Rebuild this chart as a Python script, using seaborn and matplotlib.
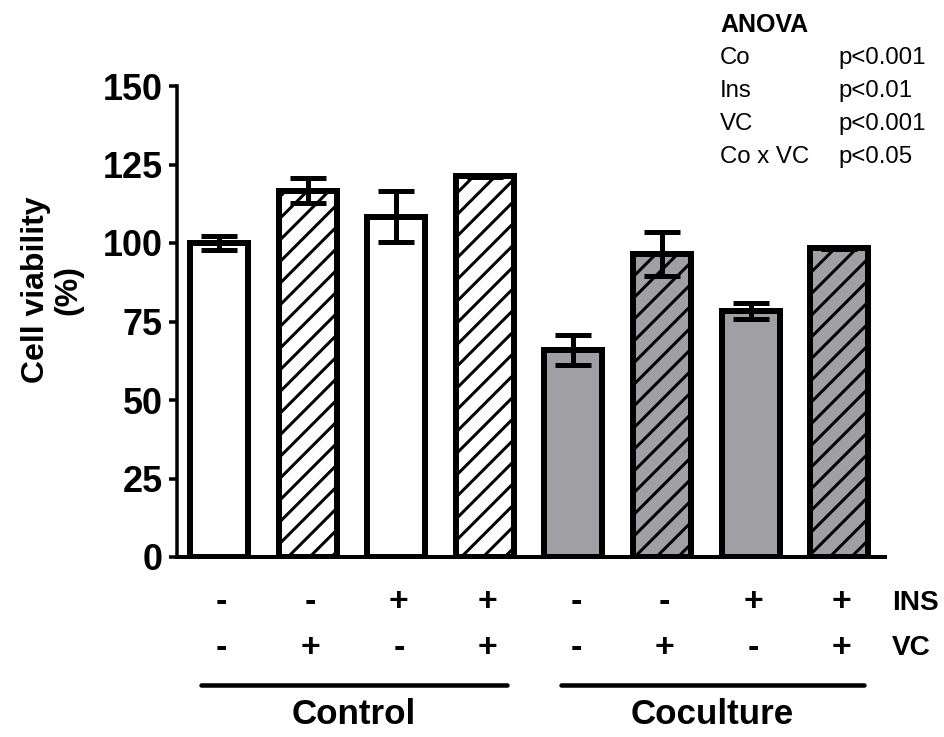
import numpy as np
import pandas as pd
import matplotlib
matplotlib.use("Agg")
import matplotlib.pyplot as plt
from matplotlib.lines import Line2D
import matplotlib.transforms as mtransforms
import seaborn as sns

# ---- data ----
groups = ["Control", "Coculture"]
conditions = ["C--", "C-+", "C+-", "C++", "K--", "K-+", "K+-", "K++"]
viability = [100.0, 116.7, 108.4, 121.2, 65.9, 96.5, 78.3, 98.4]
sem = [2.3, 4.1, 8.2, 0.3, 4.8, 7.0, 2.5, 0.3]
ins_labels = ["-", "-", "+", "+", "-", "-", "+", "+"]
vc_labels = ["-", "+", "-", "+", "-", "+", "-", "+"]
yticks = [0, 25, 50, 75, 100, 125, 150]
anova_terms = ["Co", "Ins", "VC", "Co x VC"]
anova_p = ["p<0.001", "p<0.01", "p<0.001", "p<0.05"]

# ---- style ----
DPI = 130
PT = 72.0 / DPI  # px -> pt
W, H = 944, 737

sns.set_style("ticks")
plt.rcParams["font.family"] = ["Liberation Sans", "DejaVu Sans"]
plt.rcParams["hatch.linewidth"] = 3 * PT
plt.rcParams["hatch.color"] = "black"
for k in ["text.color", "axes.labelcolor", "xtick.color", "ytick.color",
          "axes.edgecolor"]:
    plt.rcParams[k] = "black"

white = "#FFFFFF"
gray = "#A0A0A4"
fills = [white] * 4 + [gray] * 4
hatches = ["", "//", "", "//"] * 2

df = pd.DataFrame({"cond": conditions, "viability": viability})

fig = plt.figure(figsize=(W / DPI, H / DPI), dpi=DPI)
ax = fig.add_axes([177 / W, (H - 557) / H, (885 - 177) / W, (557 - 86) / H])

sns.barplot(data=df, x="cond", y="viability", hue="cond", order=conditions,
            hue_order=conditions, palette=fills, legend=False, width=0.655,
            edgecolor="black", linewidth=6 * PT, errorbar=None, ax=ax,
            saturation=1)
for p, h in zip(ax.patches, hatches):
    p.set_hatch(h)
    p.set_edgecolor("black")

x = np.arange(len(conditions))
ax.errorbar(x, viability, yerr=sem, fmt="none", ecolor="black",
            elinewidth=5 * PT, capsize=17.5 * PT, capthick=5 * PT, zorder=5)

ax.set_xlim((177 - 219) / 88.6, (885 - 219) / 88.6)
ax.set_ylim(0, 150)
ax.set_yticks(yticks)
ax.set_xticks([])
ax.set_xlabel("")
ax.set_ylabel("")
sns.despine(ax=ax)
ax.spines["left"].set_linewidth(3.5 * PT)
ax.spines["bottom"].set_linewidth(4 * PT)
ax.tick_params(axis="y", length=8 * PT, width=3.5 * PT, pad=6 * PT,
               labelsize=36 * PT, colors="black")
for lbl in ax.get_yticklabels():
    lbl.set_fontweight("bold")

# y label
fig.text(52 / W, 1 - 290 / H, "Cell viability\n(%)", rotation=90,
         ha="center", va="center", multialignment="center",
         fontsize=32 * PT, fontweight="bold", linespacing=1.1)

# +/- rows
tr = mtransforms.blended_transform_factory(ax.transData, fig.transFigure)
for xi, (a, b) in enumerate(zip(ins_labels, vc_labels)):
    ax.text(xi + 0.03, 1 - 603 / H, a, transform=tr, ha="center", va="center",
            fontsize=34 * PT, fontweight="bold", clip_on=False)
    ax.text(xi + 0.03, 1 - 648 / H, b, transform=tr, ha="center", va="center",
            fontsize=34 * PT, fontweight="bold", clip_on=False)
fig.text(892 / W, 1 - 603 / H, "INS", ha="left", va="center",
         fontsize=28 * PT, fontweight="bold")
fig.text(892 / W, 1 - 648 / H, "VC", ha="left", va="center",
         fontsize=28 * PT, fontweight="bold")

# group lines and labels
for (x0, x1), name in zip([(-0.2, 3.25), (3.86, 7.28)], groups):
    ln = Line2D([x0, x1], [1 - 685 / H] * 2, transform=tr, color="black",
                lw=4.5 * PT, solid_capstyle="round", clip_on=False)
    fig.add_artist(ln)
    ax.text((x0 + x1) / 2, 1 - 715 / H, name, transform=tr, ha="center",
            va="center", fontsize=35 * PT, fontweight="bold", clip_on=False)

# ANOVA block
fig.text(720 / W, 1 - 25 / H, "ANOVA", ha="left", va="center",
         fontsize=25 * PT, fontweight="bold")
for i, (t, pv) in enumerate(zip(anova_terms, anova_p)):
    yy = 1 - (58 + 33 * i) / H
    fig.text(720 / W, yy, t, ha="left", va="center", fontsize=24 * PT)
    fig.text(838 / W, yy, pv, ha="left", va="center", fontsize=24 * PT)

fig.savefig("out.png", dpi=DPI)
